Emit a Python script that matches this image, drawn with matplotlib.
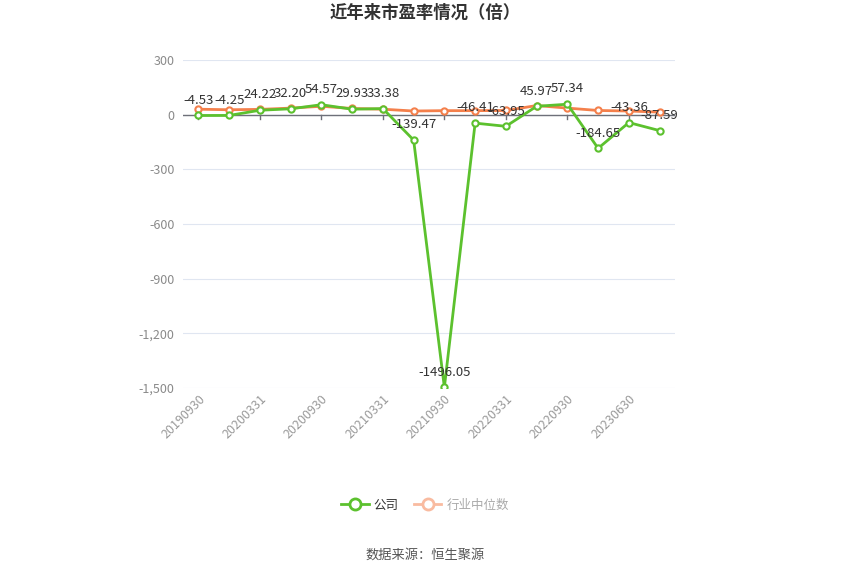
import matplotlib
matplotlib.use("Agg")
import matplotlib.pyplot as plt
from matplotlib.ticker import FuncFormatter
from matplotlib.lines import Line2D

plt.rcParams['font.family'] = ['Noto Sans CJK SC', 'DejaVu Sans']

# 数据
dates = ['20190930', '20191231', '20200331', '20200630', '20200930', '20201231',
         '20210331', '20210630', '20210930', '20211231', '20220331', '20220630',
         '20220930', '20221231', '20230630', '20230930']
company = [-4.53, -4.25, 24.22, 32.20, 54.57, 29.93, 33.38, -139.47, -1496.05,
           -46.41, -63.95, 45.97, 57.34, -184.65, -43.36, -87.59]
industry = [30, 27, 29, 36, 46, 34, 30, 20, 22, 22, 23, 50, 36, 23, 20, 14]
label_text = ['-4.53', '-4.25', '24.22', '32.20', '54.57', '29.93', '33.38', '-139.47',
              '-1496.05', '-46.41', '-63.95', '45.97', '57.34', '-184.65', '-43.36', '-87.59']

green = '#5cc12e'
orange = '#f4804c'

fig = plt.figure(figsize=(8.5, 5.74), dpi=100)
ax = fig.add_axes([183 / 850, 1 - 388 / 574, 492 / 850, 328 / 574])

x = list(range(len(dates)))
ax.plot(x, industry, color=orange, lw=2, marker='o', ms=4.5, mfc='white',
        mec=orange, mew=1.5, zorder=3)
ax.plot(x, company, color=green, lw=2, marker='o', ms=4.5, mfc='white',
        mec=green, mew=1.5, zorder=4)

for xi, yi, t in zip(x, company, label_text):
    ax.annotate(t, (xi, yi), xytext=(0, 11), textcoords='offset points',
                ha='center', va='center', fontsize=9.5, color='#333333', zorder=5)

ax.set_xlim(-0.5, len(dates) - 0.5)
ax.set_ylim(-1500, 300)
yt = [300, 0, -300, -600, -900, -1200, -1500]
ax.set_yticks(yt)
ax.yaxis.set_major_formatter(FuncFormatter(lambda v, p: f'{int(v):,}'))
ax.grid(axis='y', color='#e0e6f1', lw=0.8)
ax.axhline(0, color='#6e7079', lw=1, zorder=2)
for s in ax.spines.values():
    s.set_visible(False)
ax.tick_params(axis='y', length=0, labelsize=9, labelcolor='#8a8a8a', pad=6)

# x轴刻度线画在0轴上
ax.set_xticks(x[::2])
ax.set_xticklabels(dates[::2], rotation=45, ha='right', rotation_mode='anchor',
                   fontsize=9, color='#9a9a9a')
ax.tick_params(axis='x', length=0, pad=3)
for xi in x[::2]:
    ax.plot([xi, xi], [0, -25], color='#6e7079', lw=1, zorder=2)

fig.text(0.5, 1 - 13 / 574, '近年来市盈率情况（倍）', ha='center', va='center',
         fontsize=12.5, fontweight='bold', color='#333333')

handles = [Line2D([0], [0], color=green, lw=2, marker='o', ms=8, mfc='white', mec=green, mew=2),
           Line2D([0], [0], color='#f9bba0', lw=2, marker='o', ms=8, mfc='white', mec='#f9bba0', mew=2)]
leg = fig.legend(handles, ['公司', '行业中位数'], loc='center', bbox_to_anchor=(0.5, 1 - 505 / 574),
                 ncol=2, frameon=False, fontsize=9, handlelength=2.2, columnspacing=1.2,
                 handletextpad=0.4)
leg.get_texts()[0].set_color('#333333')
leg.get_texts()[1].set_color('#aaaaaa')

fig.text(0.5, 1 - 555 / 574, '数据来源：恒生聚源', ha='center', va='center',
         fontsize=9.5, color='#555555')

fig.savefig('out.png', dpi=100)
